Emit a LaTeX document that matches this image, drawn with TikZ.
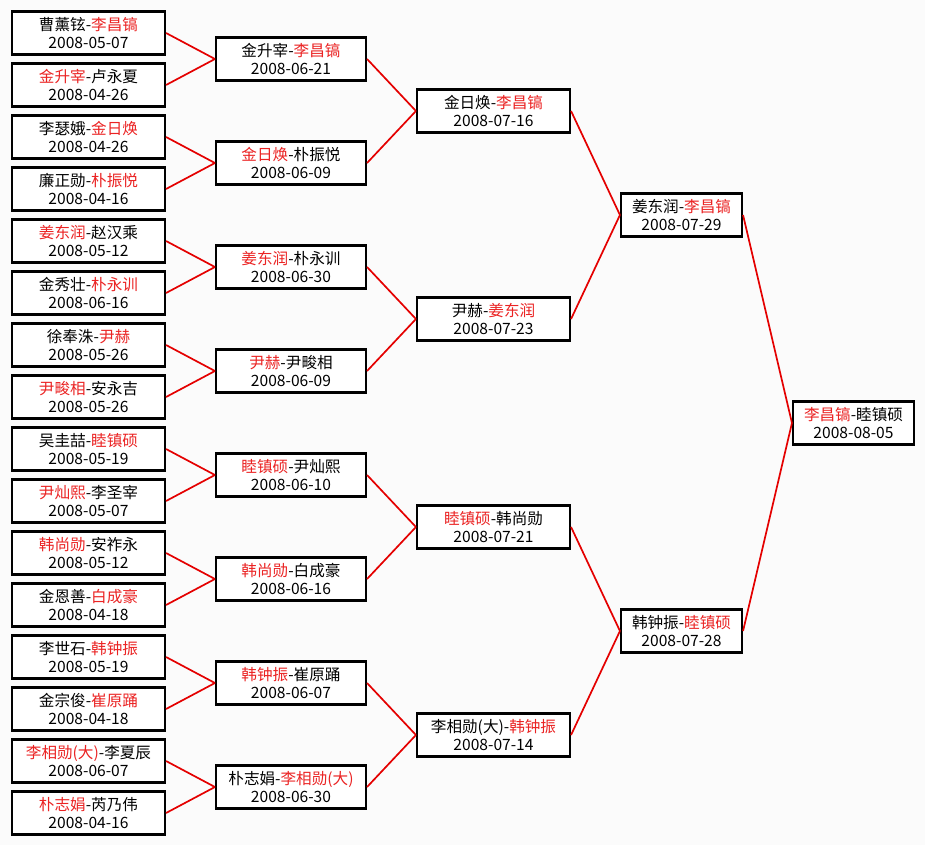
\documentclass[tikz,border=0pt]{standalone}
\usepackage{fontspec}
\setmainfont{Noto Sans CJK SC}
\usepackage{xcolor}
\usepackage{tikz}

\definecolor{winred}{RGB}{235,35,35}
\definecolor{linkred}{RGB}{228,0,0}
\newcommand{\win}[1]{\textcolor{winred}{#1}}

\begin{document}
\begin{tikzpicture}[
    x=1pt, y=-1pt,
    box/.style={
        rectangle,
        draw,
        fill=white,
        line width=2.1pt,
        align=center,
        minimum width=153pt,
        minimum height=43pt,
        inner sep=0pt,
        font=\fontsize{15.6}{17.5}\selectfont
    },
    midbox/.style={
        box,
        minimum width=150pt
    },
    smallbox/.style={
        box,
        minimum width=121pt
    },
    link/.style={
        draw=linkred,
        line width=1.7pt
    }
]

% page
\fill[gray!3] (0,0) rectangle (925,845);
\useasboundingbox (0,0) rectangle (925,845);

% first round
\node[box] (first1) at (88.5,33) {曹薰铉-\win{李昌镐}\\2008-05-07};
\node[box] (first2) at (88.5,85) {\win{金升宰}-卢永夏\\2008-04-26};
\node[box] (first3) at (88.5,137) {李瑟娥-\win{金日焕}\\2008-04-26};
\node[box] (first4) at (88.5,189) {廉正勋-\win{朴振悦}\\2008-04-16};
\node[box] (first5) at (88.5,241) {\win{姜东润}-赵汉乘\\2008-05-12};
\node[box] (first6) at (88.5,293) {金秀壮-\win{朴永训}\\2008-06-16};
\node[box] (first7) at (88.5,345) {徐奉洙-\win{尹赫}\\2008-05-26};
\node[box] (first8) at (88.5,397) {\win{尹畯相}-安永吉\\2008-05-26};
\node[box] (first9) at (88.5,449) {吴圭喆-\win{睦镇硕}\\2008-05-19};
\node[box] (first10) at (88.5,501) {\win{尹灿熙}-李圣宰\\2008-05-07};
\node[box] (first11) at (88.5,553) {\win{韩尚勋}-安祚永\\2008-05-12};
\node[box] (first12) at (88.5,605) {金恩善-\win{白成豪}\\2008-04-18};
\node[box] (first13) at (88.5,657) {李世石-\win{韩钟振}\\2008-05-19};
\node[box] (first14) at (88.5,709) {金宗俊-\win{崔原踊}\\2008-04-18};
\node[box] (first15) at (88.5,761) {\win{李相勋(大)}-李夏辰\\2008-06-07};
\node[box] (first16) at (88.5,813) {\win{朴志娟}-芮乃伟\\2008-04-16};

% second round
\node[midbox] (second1) at (291,59) {金升宰-\win{李昌镐}\\2008-06-21};
\node[midbox] (second2) at (291,163) {\win{金日焕}-朴振悦\\2008-06-09};
\node[midbox] (second3) at (291,267) {\win{姜东润}-朴永训\\2008-06-30};
\node[midbox] (second4) at (291,371) {\win{尹赫}-尹畯相\\2008-06-09};
\node[midbox] (second5) at (291,475) {\win{睦镇硕}-尹灿熙\\2008-06-10};
\node[midbox] (second6) at (291,579) {\win{韩尚勋}-白成豪\\2008-06-16};
\node[midbox] (second7) at (291,683) {\win{韩钟振}-崔原踊\\2008-06-07};
\node[midbox] (second8) at (291,787) {朴志娟-\win{李相勋(大)}\\2008-06-30};

% quarter finals
\node[box] (quarter1) at (493.5,111) {金日焕-\win{李昌镐}\\2008-07-16};
\node[box] (quarter2) at (493.5,319) {尹赫-\win{姜东润}\\2008-07-23};
\node[box] (quarter3) at (493.5,527) {\win{睦镇硕}-韩尚勋\\2008-07-21};
\node[box] (quarter4) at (493.5,735) {李相勋(大)-\win{韩钟振}\\2008-07-14};

% semi finals
\node[smallbox] (semi1) at (681.5,215) {姜东润-\win{李昌镐}\\2008-07-29};
\node[smallbox] (semi2) at (681.5,631) {韩钟振-\win{睦镇硕}\\2008-07-28};

% final
\node[smallbox] (final) at (853.5,423) {\win{李昌镐}-睦镇硕\\2008-08-05};

\draw[link] (first1.east) -- (second1.west);
\draw[link] (first2.east) -- (second1.west);
\draw[link] (first3.east) -- (second2.west);
\draw[link] (first4.east) -- (second2.west);
\draw[link] (first5.east) -- (second3.west);
\draw[link] (first6.east) -- (second3.west);
\draw[link] (first7.east) -- (second4.west);
\draw[link] (first8.east) -- (second4.west);
\draw[link] (first9.east) -- (second5.west);
\draw[link] (first10.east) -- (second5.west);
\draw[link] (first11.east) -- (second6.west);
\draw[link] (first12.east) -- (second6.west);
\draw[link] (first13.east) -- (second7.west);
\draw[link] (first14.east) -- (second7.west);
\draw[link] (first15.east) -- (second8.west);
\draw[link] (first16.east) -- (second8.west);

\draw[link] (second1.east) -- (quarter1.west);
\draw[link] (second2.east) -- (quarter1.west);
\draw[link] (second3.east) -- (quarter2.west);
\draw[link] (second4.east) -- (quarter2.west);
\draw[link] (second5.east) -- (quarter3.west);
\draw[link] (second6.east) -- (quarter3.west);
\draw[link] (second7.east) -- (quarter4.west);
\draw[link] (second8.east) -- (quarter4.west);

\draw[link] (quarter1.east) -- (semi1.west);
\draw[link] (quarter2.east) -- (semi1.west);
\draw[link] (quarter3.east) -- (semi2.west);
\draw[link] (quarter4.east) -- (semi2.west);

\draw[link] (semi1.east) -- (final.west);
\draw[link] (semi2.east) -- (final.west);

\end{tikzpicture}
\end{document}
